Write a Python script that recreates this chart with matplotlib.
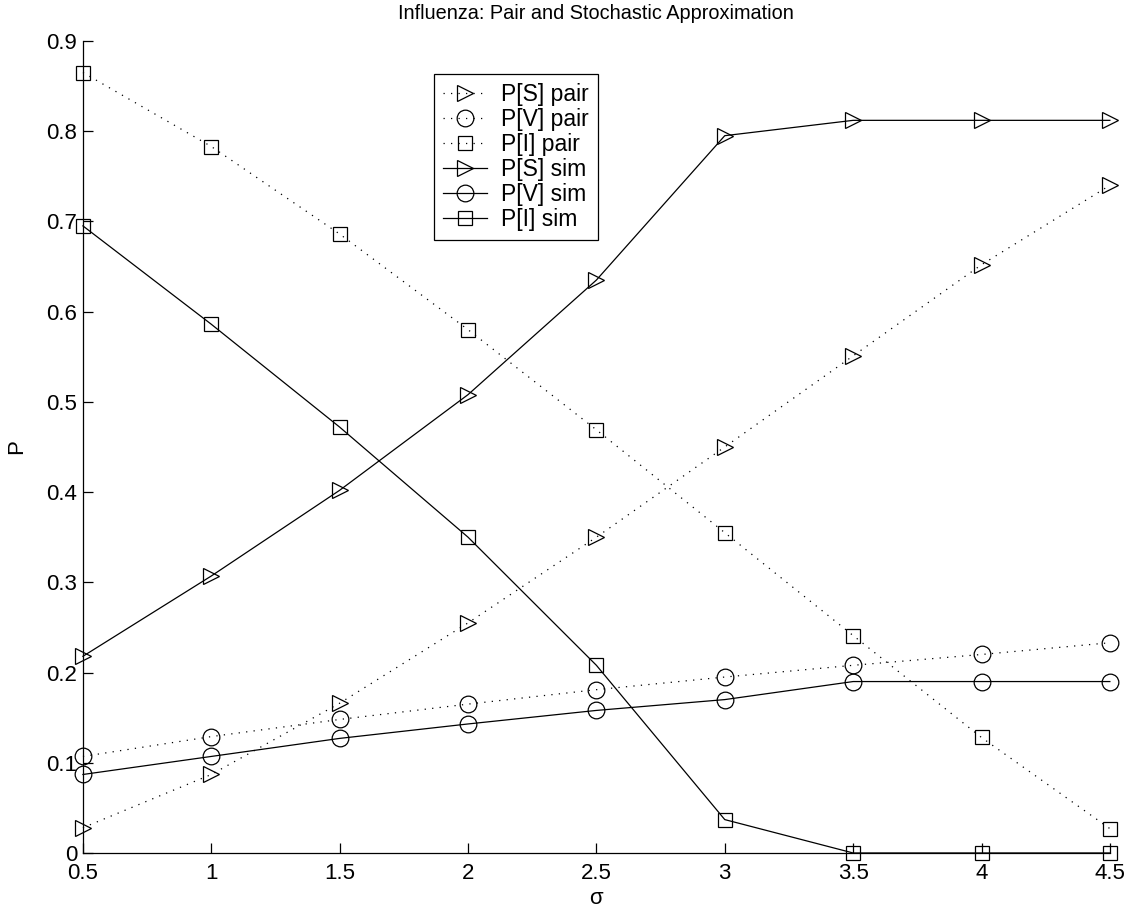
import matplotlib.pyplot as plt
import numpy as np

plt.rcParams['font.family'] = ['Liberation Sans', 'DejaVu Sans']
plt.rcParams['font.size'] = 16

sigma = [0.5, 1.0, 1.5, 2.0, 2.5, 3.0, 3.5, 4.0, 4.5]

s_pair = [0.028, 0.087, 0.166, 0.255, 0.350, 0.450, 0.551, 0.652, 0.740]
v_pair = [0.107, 0.129, 0.148, 0.165, 0.181, 0.195, 0.208, 0.220, 0.233]
i_pair = [0.865, 0.783, 0.686, 0.580, 0.469, 0.355, 0.241, 0.128, 0.027]
s_sim = [0.218, 0.307, 0.402, 0.508, 0.635, 0.795, 0.812, 0.812, 0.812]
v_sim = [0.087, 0.107, 0.127, 0.143, 0.158, 0.170, 0.190, 0.190, 0.190]
i_sim = [0.695, 0.586, 0.472, 0.350, 0.208, 0.037, 0.0, 0.0, 0.0]

fig = plt.figure(figsize=(11.36, 9.16), dpi=100)
ax = fig.add_axes([0.073, 0.0688, 0.904, 0.8865])

dot = (0, (1, 5))
common = dict(color='black', mfc='none', mec='black', mew=0.9, clip_on=False)
ax.plot(sigma, s_pair, linestyle=dot, lw=0.9, marker='>', ms=12, label='P[S] pair', **common)
ax.plot(sigma, v_pair, linestyle=dot, lw=0.9, marker='o', ms=12, label='P[V] pair', **common)
ax.plot(sigma, i_pair, linestyle=dot, lw=0.9, marker='s', ms=10, label='P[I] pair', **common)
ax.plot(sigma, s_sim, linestyle='-', lw=0.9, marker='>', ms=12, label='P[S] sim', **common)
ax.plot(sigma, v_sim, linestyle='-', lw=0.9, marker='o', ms=12, label='P[V] sim', **common)
ax.plot(sigma, i_sim, linestyle='-', lw=0.9, marker='s', ms=10, label='P[I] sim', **common)

ax.set_xlim(0.5, 4.5)
ax.set_ylim(0, 0.9)
ax.set_xticks(sigma)
ax.set_xticklabels(['0.5', '1', '1.5', '2', '2.5', '3', '3.5', '4', '4.5'])
ax.set_yticks(np.arange(0, 0.91, 0.1))
ax.set_yticklabels(['0', '0.1', '0.2', '0.3', '0.4', '0.5', '0.6', '0.7', '0.8', '0.9'])
ax.tick_params(direction='in', length=7, width=0.9)
ax.tick_params(axis='x', pad=7)
ax.tick_params(axis='y', pad=4)
ax.spines['top'].set_visible(False)
ax.spines['right'].set_visible(False)
for sp in ['left', 'bottom']:
    ax.spines[sp].set_linewidth(0.9)

ax.set_xlabel('σ', labelpad=3)
ax.set_ylabel('P', labelpad=14)
ax.set_title('Influenza: Pair and Stochastic Approximation', fontsize=14.3, pad=16)

leg = ax.legend(loc='upper left', bbox_to_anchor=(0.342, 0.959), borderaxespad=0,
                fancybox=False, edgecolor='black', framealpha=1, handlelength=1.9,
                handletextpad=0.6, labelspacing=0.08, borderpad=0.4, fontsize=16.5)
leg.get_frame().set_linewidth(0.9)

fig.savefig('out.png', dpi=100)
